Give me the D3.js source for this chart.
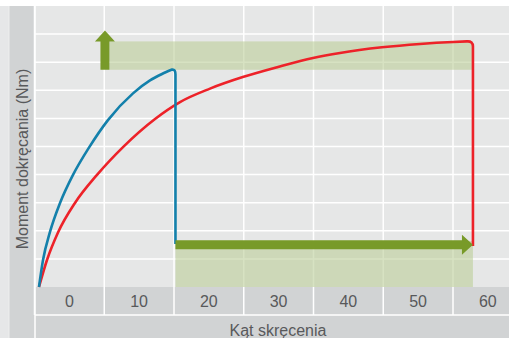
<!DOCTYPE html>
<html>
<head>
<meta charset="utf-8">
<script src="https://cdn.jsdelivr.net/npm/d3@7"></script>
<style>
  body { margin:0; background:#ffffff; }
  text { font-family:"Liberation Sans", Arial, sans-serif; fill:#58595b; }
</style>
</head>
<body>
<svg id="torquegraph"></svg>
<script>
// tick labels of the angle axis
var xTicks = [0,10,20,30,40,50,60];

// blue curve (torque vs angle), rising part
var blueX = [-4.36,-3.78,-2.78,-1.34,0.52,2.81,5.53,9.12,11.56,13.28,14.72];
var blueY = [0,0.96,1.96,2.99,3.99,4.96,5.94,6.89,7.35,7.58,7.74];
// where the blue curve drops: [angle, torque after drop]
var blueDrop = [15.21,1.53];

// red curve, rising part
var redX = [-4.36,-3.21,-1.63,0.80,3.96,7.69,12.28,15.86,20.16,24.86,29.91,34.93,38.80,44.82,50.27,55.00,57.00];
var redY = [0,0.96,1.94,2.99,3.99,4.98,5.98,6.58,7.06,7.47,7.83,8.15,8.33,8.53,8.65,8.72,8.74];
var redDrop = [57.86,1.46];

// green highlight zones: torque gain [from,to], angle gain [from,to]
var torqueGain = [7.73, 8.74];
var angleGain = [15.21, 57.86];

var initTorqueGraph = function()
{
    var screen = {width:509,height:338}
    var margins = {left:35,right:0,top:6,bottom:51}

    var graph =
        {
            width:screen.width-margins.left-margins.right,
            height:screen.height-margins.top-margins.bottom
        }

    var svg = d3.select("#torquegraph")
        .attr("width",screen.width)
        .attr("height",screen.height)

    var xScale = d3.scaleLinear()
        .domain([-5,63])
        .range([34.5,508.8])

    var yScale = d3.scaleLinear()
        .domain([0,10])
        .range([margins.top+graph.height,margins.top])

    //background panels
    svg.append("rect").attr("x",0).attr("y",margins.top)
       .attr("width",9).attr("height",screen.height-margins.top).attr("fill","#e6e7e8")
    svg.append("rect").attr("x",9).attr("y",margins.top)
       .attr("width",margins.left-9).attr("height",screen.height-margins.top).attr("fill","#d1d3d4")
    svg.append("rect").attr("x",margins.left).attr("y",margins.top)
       .attr("width",graph.width).attr("height",graph.height).attr("fill","#e6e7e7")
    svg.append("rect").attr("x",margins.left).attr("y",margins.top+graph.height)
       .attr("width",graph.width).attr("height",margins.bottom).attr("fill","#d1d3d4")

    //grid lines sit between the tick labels
    var gridX = xTicks.map(function(t){return t-5})

    svg.append("g").selectAll("line")
       .data(gridX)
       .enter()
       .append("line")
       .attr("x1",function(d){return xScale(d)})
       .attr("x2",function(d){return xScale(d)})
       .attr("y1",margins.top)
       .attr("y2",margins.top+graph.height+28)
       .attr("stroke","#ffffff")
       .attr("stroke-width",1.5)

    svg.append("g").selectAll("line")
       .data(d3.range(1,10))
       .enter()
       .append("line")
       .attr("x1",margins.left)
       .attr("x2",screen.width)
       .attr("y1",function(d){return yScale(d)})
       .attr("y2",function(d){return yScale(d)})
       .attr("stroke","#ffffff")
       .attr("stroke-width",1.5)

    svg.append("line")
       .attr("x1",margins.left).attr("x2",screen.width)
       .attr("y1",margins.top+graph.height+28).attr("y2",margins.top+graph.height+28)
       .attr("stroke","#ffffff").attr("stroke-width",1.5)
    svg.append("line")
       .attr("x1",margins.left).attr("x2",margins.left)
       .attr("y1",margins.top).attr("y2",screen.height)
       .attr("stroke","#ffffff").attr("stroke-width",1.5)
    svg.append("line")
       .attr("x1",9).attr("x2",9)
       .attr("y1",margins.top).attr("y2",screen.height)
       .attr("stroke","#eeeeee").attr("stroke-width",1)

    //green zones
    svg.append("rect")
       .attr("x",xScale(5.1)+4.5)
       .attr("y",yScale(torqueGain[1]))
       .attr("width",xScale(angleGain[1])-xScale(5.1)-4.5)
       .attr("height",yScale(torqueGain[0])-yScale(torqueGain[1]))
       .attr("fill","#bcce9a")
       .attr("opacity",0.6)
    svg.append("rect")
       .attr("x",xScale(angleGain[0]))
       .attr("y",yScale(1.64))
       .attr("width",xScale(angleGain[1])-xScale(angleGain[0]))
       .attr("height",yScale(0)-yScale(1.64))
       .attr("fill","#bcce9a")
       .attr("opacity",0.6)

    //curves: smooth rise, rounded corner at the peak, then straight drop
    var rise = d3.line()
        .x(function(d){return xScale(d[0])})
        .y(function(d){return yScale(d[1])})
        .curve(d3.curveMonotoneX)

    var curvePath = function(xs,ys,drop)
    {
        var pts = xs.map(function(x,i){return [x,ys[i]]})
        var last = pts[pts.length-1]
        var dx = xScale(drop[0])
        var py = yScale(last[1])
        return rise(pts)
            +"Q"+dx+","+(py-0.5)+" "+dx+","+(py+5)
            +"L"+dx+","+yScale(drop[1])
    }

    svg.append("path")
       .attr("d",curvePath(redX,redY,redDrop))
       .attr("fill","none")
       .attr("stroke","#ed2229")
       .attr("stroke-width",2.6)
       .attr("stroke-linejoin","round")

    svg.append("path")
       .attr("d",curvePath(blueX,blueY,blueDrop))
       .attr("fill","none")
       .attr("stroke","#1380ab")
       .attr("stroke-width",2.6)
       .attr("stroke-linejoin","round")

    //arrows
    var ax = xScale(5.1)
    var up = d3.path()
    up.moveTo(ax-4.5,yScale(torqueGain[0]))
    up.lineTo(ax-4.5,yScale(torqueGain[1]))
    up.lineTo(ax-10,yScale(torqueGain[1]))
    up.lineTo(ax,yScale(torqueGain[1])-11)
    up.lineTo(ax+10,yScale(torqueGain[1]))
    up.lineTo(ax+4.5,yScale(torqueGain[1]))
    up.lineTo(ax+4.5,yScale(torqueGain[0]))
    up.closePath()
    svg.append("path").attr("d",up.toString()).attr("fill","#789a29")

    var ay = yScale(1.5)
    var tip = xScale(angleGain[1])
    var right = d3.path()
    right.moveTo(xScale(angleGain[0]),ay-4.5)
    right.lineTo(tip-11,ay-4.5)
    right.lineTo(tip-11,ay-10)
    right.lineTo(tip,ay)
    right.lineTo(tip-11,ay+10)
    right.lineTo(tip-11,ay+4.5)
    right.lineTo(xScale(angleGain[0]),ay+4.5)
    right.closePath()
    svg.append("path").attr("d",right.toString()).attr("fill","#789a29")

    //tick labels
    svg.append("g").selectAll("text")
       .data(xTicks)
       .enter()
       .append("text")
       .text(function(d){return d})
       .attr("x",function(d){return xScale(d)})
       .attr("y",margins.top+graph.height+20)
       .attr("text-anchor","middle")
       .style("font-size","16px")

    //axis titles
    svg.append("text")
       .text("Kąt skręcenia")
       .attr("x",278)
       .attr("y",336)
       .attr("text-anchor","middle")
       .style("font-size","16px")

    svg.append("g")
       .attr("transform","translate(27.5,159)")
       .append("text")
       .text("Moment dokręcania (Nm)")
       .attr("text-anchor","middle")
       .attr("transform","rotate(-90)")
       .style("font-size","16px")
}

initTorqueGraph();
</script>
</body>
</html>
